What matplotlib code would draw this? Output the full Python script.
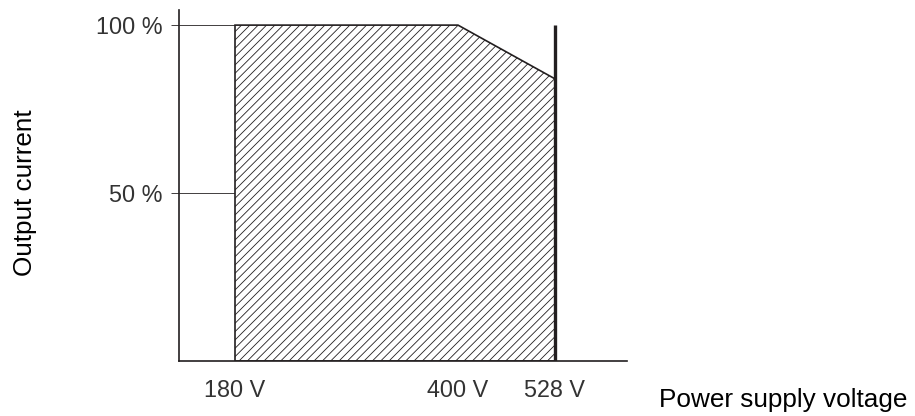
import numpy as np
import matplotlib
matplotlib.use('Agg')
import matplotlib.pyplot as plt

plt.rcParams['font.family'] = ['Liberation Sans', 'DejaVu Sans']
plt.rcParams['hatch.linewidth'] = 0.6

# derating curve (volts, % output current)
volts = [180, 400, 528]
current = [100, 100, 84]
vmax_line = 528          # hard upper supply limit
ytick_vals = [50, 100]
ytick_labels = ['50 %', '100 %']
xtick_vals = [180, 400, 528]
xtick_labels = ['180 V', '400 V', '528 V']

ink = '#231f20'

# the drawing is not to scale: piecewise mapping of volts to axis position
v_anchor = [125, 180, 400, 528, 623]
p_anchor = [0, 56, 279, 376, 448]
fwd = lambda v: np.interp(v, v_anchor, p_anchor)
inv = lambda p: np.interp(p, p_anchor, v_anchor)

fig = plt.figure(figsize=(9.15, 4.16), dpi=100)
ax = fig.add_axes([179/915, 55/416, 448/915, 351/416])
ax.set_xscale('function', functions=(fwd, inv))
ax.set_xlim(125, 623)
ax.set_ylim(0, 104.5)

# hatched operating area
vx = [volts[0]] + volts
cy = [0] + current
ax.fill(vx + [volts[-1]], cy + [0], facecolor='white', edgecolor=ink,
        hatch='////', linewidth=1.2, zorder=2)
ax.vlines(vmax_line, 0, 100, color=ink, linewidth=2.4, zorder=3)

# tick guide lines from axis to area edge
ax.hlines(ytick_vals, 125, volts[0], color=ink, linewidth=0.6, zorder=1)

for s in ['top', 'right']:
    ax.spines[s].set_visible(False)
for s in ['left', 'bottom']:
    ax.spines[s].set_color(ink)
    ax.spines[s].set_linewidth(1.2)

ax.set_yticks(ytick_vals)
ax.set_yticklabels(ytick_labels, fontsize=16.8, color='#333333')
ax.tick_params(axis='y', direction='out', length=5.8, width=0.6, color=ink, pad=5.8)
ax.set_xticks(xtick_vals)
ax.set_xticklabels(xtick_labels, fontsize=16.8, color='#333333')
ax.tick_params(axis='x', length=0, pad=13)
ax.xaxis.set_minor_locator(matplotlib.ticker.NullLocator())

fig.text(25/915, 1 - 193/416, 'Output current', rotation=90, fontsize=18.8,
         color='black', ha='center', va='center')
fig.text(659/915, 1 - 400/416, 'Power supply voltage', fontsize=18.8,
         color='black', ha='left', va='center')

fig.savefig('out.png', dpi=100)
